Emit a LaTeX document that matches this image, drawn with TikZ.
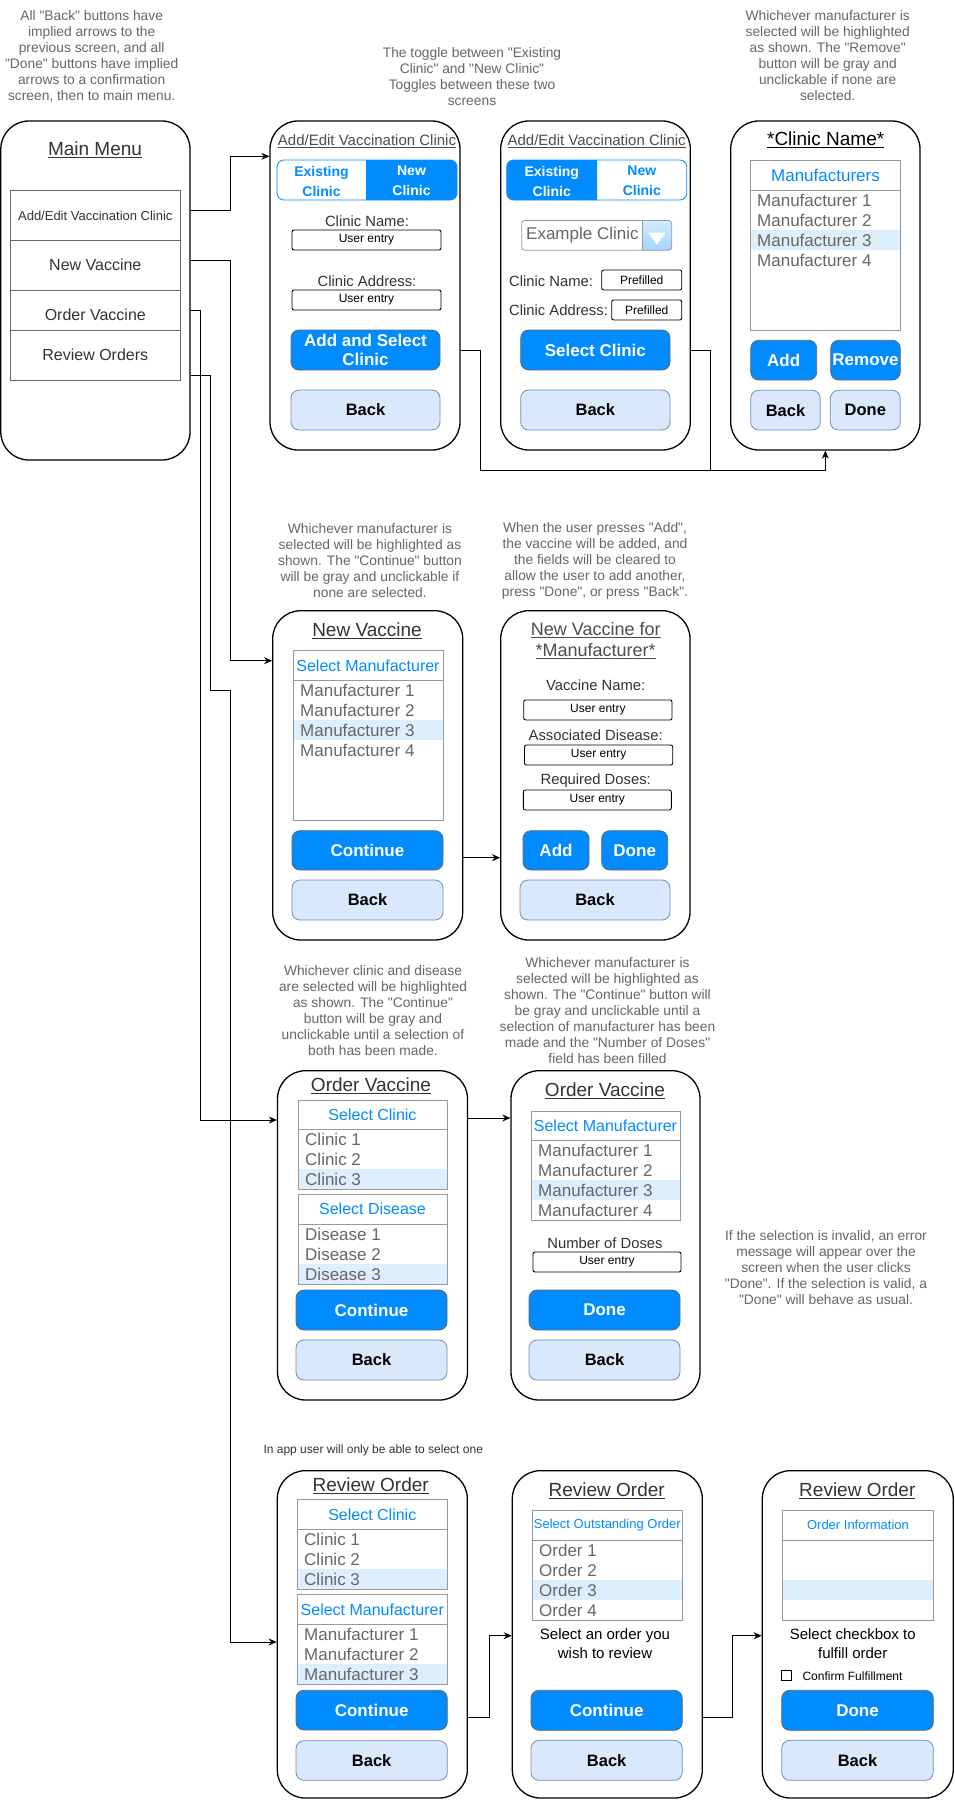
\documentclass[tikz,border=0pt]{standalone}
\usepackage{fontspec}
\setmainfont{Liberation Sans}
\newfontfamily\uisans{Liberation Sans}
\usetikzlibrary{arrows.meta}
\definecolor{notegray}{HTML}{666666}
\definecolor{btnblue}{HTML}{008CFF}
\definecolor{btnedge}{HTML}{666666}
\definecolor{backfill}{HTML}{DAE8FC}
\definecolor{backedge}{HTML}{6C8EBF}
\definecolor{listedge}{HTML}{999999}
\definecolor{hl}{HTML}{DDEEFF}
\definecolor{itemgray}{HTML}{666666}
\definecolor{dark}{HTML}{333333}
\definecolor{titlegray}{HTML}{4D4D4D}
\definecolor{ddtop}{HTML}{D2EBFF}
\definecolor{ddbot}{HTML}{A3D4FF}
\newcommand\fs[2]{\uisans\fontsize{#1}{#2}\selectfont}
% style name x1 y1 x2 y2 text
\newcommand\rbox[7]{\node[#1, inner sep=0pt, minimum width={(#5)-(#3)}, minimum height={(#6)-(#4)}] (#2) at ({((#3)+(#5))/2},{((#4)+(#6))/2}) {#7};}
% name x1 y1 x2 yhead y2 header size
\newcommand\listframe[8]{%
  \node[draw=listedge, line width=0.8pt, inner sep=0pt, minimum width={(#4)-(#2)}, minimum height={(#6)-(#3)}] (#1) at ({((#2)+(#4))/2},{((#3)+(#6))/2}) {};
  \draw[listedge, line width=0.8pt] (#2,#5) -- (#4,#5);
  \node[text=btnblue, font=\fs{#8}{#8}, inner sep=0pt] (#1h) at ({((#2)+(#4))/2},{((#3)+(#5))/2}) {#7};}
\newcommand\litem[4]{\node[anchor=west, text=itemgray, font=\fs{17}{20}, inner sep=0pt] (#1) at (#2,#3) {#4};}
\begin{document}
\begin{tikzpicture}[x=1pt,y=-1pt,
  note/.style={text=notegray, align=center, font=\fs{13.8}{16}, inner sep=0pt},
  frame/.style={draw=black, line width=1.3pt, rounded corners=28pt, fill=white},
  title/.style={font=\fs{19}{22}, text=dark, inner sep=0pt},
  lbl/.style={font=\fs{14.8}{17}, text=dark, inner sep=0pt},
  field/.style={draw=black, line width=0.9pt, rounded corners=2pt, font=\fs{12}{14}},
  bluebtn/.style={draw=btnedge, line width=0.8pt, fill=btnblue, rounded corners=8pt, text=white, font=\bfseries\fs{17}{19.5}, align=center},
  backbtn/.style={draw=backedge, line width=0.8pt, fill=backfill, rounded corners=8pt, text=black, font=\bfseries\fs{16.5}{19}},
  mitem/.style={draw=btnedge, line width=0.8pt},
  conn/.style={draw=black, line width=0.9pt, -{Stealth[length=8pt,width=7pt]}},
  plain/.style={draw=black, line width=0.9pt}]
\useasboundingbox (0,0) rectangle (954,1801);
\fill[white] (0,0) rectangle (954,1801);

% ---------- notes ----------
\node[note] (n1) at (91.7,56) {All "Back" buttons have\\implied arrows to the\\previous screen, and all\\"Done" buttons have implied\\arrows to a confirmation\\screen, then to main menu.};
\node[note] (n2) at (472,76.3) {The toggle between "Existing\\Clinic" and "New Clinic"\\Toggles between these two\\screens};
\node[note] (n3) at (827.7,56) {Whichever manufacturer is\\selected will be highlighted\\as shown. The "Remove"\\button will be gray and\\unclickable if none are\\selected.};
\node[note] (n4) at (370,561) {Whichever manufacturer is\\selected will be highlighted as\\shown. The "Continue" button\\will be gray and unclickable if\\none are selected.};
\node[note] (n5) at (595,561) {When the user presses "Add",\\the vaccine will be added, and\\the fields will be cleared to\\allow the user to add another,\\press "Done", or press "Back".};
\node[note] (n6) at (373,1011) {Whichever clinic and disease\\are selected will be highlighted\\as shown. The "Continue"\\button will be gray and\\unclickable until a selection of\\both has been made.};
\node[note] (n7) at (607.5,1011) {Whichever manufacturer is\\selected will be highlighted as\\shown. The "Continue" button will\\be gray and unclickable until a\\selection of manufacturer has been\\made and the "Number of Doses"\\field has been filled};
\node[note] (n8) at (826,1268) {If the selection is invalid, an error\\message will appear over the\\screen when the user clicks\\"Done". If the selection is valid, a\\"Done" will behave as usual.};
\node[anchor=west, text=dark, font=\fs{12}{14}, inner sep=0pt] (n9) at (263.3,1450.7) {In app user will only be able to select one};

% ---------- Main menu ----------
\rbox{frame}{mm}{0.8}{121}{190}{460}{}
\node[title] (mmt) at (95,150) {\underline{Main Menu}};
\rbox{mitem}{mi1}{10.7}{190.7}{180}{240.3}{}
\rbox{mitem}{mi2}{10.7}{240.3}{180}{290.3}{}
\rbox{mitem}{mi3}{10.7}{290.3}{180}{330.3}{}
\rbox{mitem}{mi4}{10.7}{330.3}{180}{380}{}
\node[font=\fs{13}{15}, text=dark, inner sep=0pt] (mi1t) at (95.3,216) {Add/Edit Vaccination Clinic};
\node[font=\fs{16}{18}, text=dark, inner sep=0pt] (mi2t) at (95.3,265) {New Vaccine};
\node[font=\fs{16}{18}, text=dark, inner sep=0pt] (mi3t) at (95.3,315) {Order Vaccine};
\node[font=\fs{16}{18}, text=dark, inner sep=0pt] (mi4t) at (95.3,355) {Review Orders};

% ---------- Screen 2: new clinic ----------
\rbox{frame}{s2}{270}{121}{460}{450}{}
\node[font=\fs{15}{17}, text=titlegray, inner sep=0pt] (s2t) at (367,141) {\underline{Add/Edit Vaccination Clinic}};
\begin{scope}
  \clip (366,150) rectangle (470,210);
  \fill[btnblue, rounded corners=7pt] (277,160) rectangle (457,200);
\end{scope}
\rbox{draw=btnblue, line width=0.8pt, rounded corners=7pt}{s2tog}{277}{160}{457}{200}{}
\node[text=btnblue, font=\bfseries\fs{14}{20}, align=center, inner sep=0pt] (s2ex) at (321.5,181) {Existing\\Clinic};
\node[text=white, font=\bfseries\fs{14}{20}, align=center, inner sep=0pt] (s2nw) at (411.5,181) {New\\Clinic};
\node[lbl] (s2l1) at (367,221) {Clinic Name:};
\rbox{field}{s2f1}{292}{230}{441}{250}{User entry}
\node[lbl] (s2l2) at (367,281) {Clinic Address:};
\rbox{field}{s2f2}{292}{290}{441}{310}{User entry}
\rbox{bluebtn}{s2b1}{291}{330}{440}{370}{Add and Select\\Clinic}
\rbox{backbtn}{s2b2}{291}{390}{440}{430}{Back}

% ---------- Screen 3: existing clinic ----------
\rbox{frame}{s3}{500.7}{121}{690.3}{450}{}
\node[font=\fs{15}{17}, text=titlegray, inner sep=0pt] (s3t) at (596.7,141) {\underline{Add/Edit Vaccination Clinic}};
\begin{scope}
  \clip (490,150) rectangle (597,210);
  \fill[btnblue, rounded corners=7pt] (506.7,160) rectangle (686.7,200);
\end{scope}
\rbox{draw=btnblue, line width=0.8pt, rounded corners=7pt}{s3tog}{506.7}{160}{686.7}{200}{}
\node[text=white, font=\bfseries\fs{14}{20}, align=center, inner sep=0pt] (s3ex) at (551.8,181) {Existing\\Clinic};
\node[text=btnblue, font=\bfseries\fs{14}{20}, align=center, inner sep=0pt] (s3nw) at (641.8,181) {New\\Clinic};
\begin{scope}
  \clip[rounded corners=3pt] (521.7,220.5) rectangle (671.7,250.3);
  \shade[top color=ddtop, bottom color=ddbot] (642.7,220) rectangle (672,251);
\end{scope}
\rbox{draw=listedge, line width=0.8pt, rounded corners=3pt}{s3dd}{521.7}{220.5}{671.7}{250.3}{}
\draw[listedge, line width=0.6pt] (642.7,220.5) -- (642.7,250.3);
\fill[white] (648,232.7) -- (665.7,232.7) -- (656.8,244.7) -- cycle;
\node[anchor=west, text=itemgray, font=\fs{17}{20}, inner sep=0pt] (s3ddt) at (526,235.3) {Example Clinic};
\node[lbl, anchor=west] (s3l1) at (509,281) {Clinic Name:};
\rbox{field}{s3f1}{601.7}{270}{681.7}{290}{Prefilled}
\node[lbl, anchor=west] (s3l2) at (509,310.7) {Clinic Address:};
\rbox{field}{s3f2}{611.7}{300}{681.7}{320}{Prefilled}
\rbox{bluebtn}{s3b1}{520.7}{330}{670}{370}{Select Clinic}
\rbox{backbtn}{s3b2}{520.7}{390}{670}{430}{Back}

% ---------- Screen 4: clinic name ----------
\rbox{frame}{s4}{730.7}{121}{920}{450}{}
\node[title, text=black] (s4t) at (825.7,140) {\underline{*Clinic Name*}};
\fill[hl] (750.7,230.3) rectangle (900.3,250.3);
\listframe{s4l}{750.7}{160.7}{900.3}{190.3}{330.3}{Manufacturers}{17}
\litem{s4i1}{757}{200.3}{Manufacturer 1}
\litem{s4i2}{757}{220.3}{Manufacturer 2}
\litem{s4i3}{757}{240.3}{Manufacturer 3}
\litem{s4i4}{757}{260.3}{Manufacturer 4}
\rbox{bluebtn}{s4b1}{750.7}{340.3}{816.7}{380}{Add}
\rbox{bluebtn}{s4b2}{830.7}{340.3}{900.3}{380}{Remove}
\rbox{backbtn}{s4b3}{750.7}{390.3}{820.3}{430}{Back}
\rbox{backbtn}{s4b4}{830.3}{390.3}{900.3}{430}{Done}

% ---------- New vaccine ----------
\rbox{frame}{nv}{272.7}{610.7}{462.7}{940}{}
\node[title] (nvt) at (367,630.7) {\underline{New Vaccine}};
\fill[hl] (293,720) rectangle (443,740);
\listframe{nvl}{293}{650.7}{443}{680}{820}{Select Manufacturer}{16}
\litem{nvi1}{300}{690}{Manufacturer 1}
\litem{nvi2}{300}{710}{Manufacturer 2}
\litem{nvi3}{300}{730}{Manufacturer 3}
\litem{nvi4}{300}{750}{Manufacturer 4}
\rbox{bluebtn}{nvb1}{292}{830.7}{443}{870}{Continue}
\rbox{backbtn}{nvb2}{292}{880}{443}{920}{Back}

% ---------- New vaccine for manufacturer ----------
\rbox{frame}{nvm}{500.7}{610.7}{690}{940}{}
\node[font=\fs{18}{20.7}, text=titlegray, align=center, inner sep=0pt] (nvmt) at (595.7,640.5) {\underline{New Vaccine for}\\\underline{*Manufacturer*}};
\node[lbl] (nvml1) at (595.7,685.7) {Vaccine Name:};
\rbox{field}{nvmf1}{523.7}{700}{672}{720}{User entry}
\node[lbl] (nvml2) at (595.7,735.7) {Associated Disease:};
\rbox{field}{nvmf2}{524.5}{745}{672.7}{765}{User entry}
\node[lbl] (nvml3) at (595.7,781) {Required Doses:};
\rbox{field}{nvmf3}{523.3}{790}{671.3}{810}{User entry}
\rbox{bluebtn}{nvmb1}{523}{830.7}{589}{870}{Add}
\rbox{bluebtn}{nvmb2}{601.7}{830.7}{667.7}{870}{Done}
\rbox{backbtn}{nvmb3}{520}{880}{670}{920}{Back}

% ---------- Order vaccine 1 ----------
\rbox{frame}{ov1}{277.5}{1070.7}{467.5}{1400}{}
\node[title] (ov1t) at (371,1086) {\underline{Order Vaccine}};
\fill[hl] (298,1169) rectangle (447,1189);
\listframe{ov1c}{298}{1100}{447}{1129}{1189}{Select Clinic}{16}
\litem{ov1c1}{305}{1139}{Clinic 1}
\litem{ov1c2}{305}{1159}{Clinic 2}
\litem{ov1c3}{305}{1179}{Clinic 3}
\fill[hl] (298,1264) rectangle (447,1284);
\listframe{ov1d}{298}{1194}{447}{1224}{1284}{Select Disease}{16}
\litem{ov1d1}{305}{1234}{Disease 1}
\litem{ov1d2}{305}{1254}{Disease 2}
\litem{ov1d3}{305}{1274}{Disease 3}
\rbox{bluebtn}{ov1b1}{296}{1290}{447}{1330}{Continue}
\rbox{backbtn}{ov1b2}{296}{1340}{447}{1380}{Back}

% ---------- Order vaccine 2 ----------
\rbox{frame}{ov2}{511}{1070.7}{700}{1400}{}
\node[title] (ov2t) at (605,1091) {\underline{Order Vaccine}};
\fill[hl] (531,1180) rectangle (680,1200);
\listframe{ov2l}{531}{1111}{680}{1140}{1220}{Select Manufacturer}{16}
\litem{ov2i1}{538}{1150}{Manufacturer 1}
\litem{ov2i2}{538}{1170}{Manufacturer 2}
\litem{ov2i3}{538}{1190}{Manufacturer 3}
\litem{ov2i4}{538}{1210}{Manufacturer 4}
\node[lbl] (ov2l1) at (605,1243) {Number of Doses};
\rbox{field}{ov2f}{533}{1252}{681}{1272}{User entry}
\rbox{bluebtn}{ov2b1}{529}{1290}{680}{1330}{Done}
\rbox{backbtn}{ov2b2}{529}{1340}{680}{1380}{Back}

% ---------- Review order 1 ----------
\rbox{frame}{ro1}{277.3}{1470.7}{467.3}{1798}{}
\node[title] (ro1t) at (370.7,1485.7) {\underline{Review Order}};
\fill[hl] (297.3,1569.3) rectangle (447.3,1589.3);
\listframe{ro1c}{297.3}{1499.7}{447.3}{1529.3}{1589.3}{Select Clinic}{16}
\litem{ro1c1}{304}{1539.3}{Clinic 1}
\litem{ro1c2}{304}{1559.3}{Clinic 2}
\litem{ro1c3}{304}{1579.3}{Clinic 3}
\fill[hl] (297.3,1664.3) rectangle (447.3,1684.3);
\listframe{ro1m}{297.3}{1594.3}{447.3}{1624.3}{1684.3}{Select Manufacturer}{16}
\litem{ro1m1}{304}{1634.3}{Manufacturer 1}
\litem{ro1m2}{304}{1654.3}{Manufacturer 2}
\litem{ro1m3}{304}{1674.3}{Manufacturer 3}
\rbox{bluebtn}{ro1b1}{296}{1690.3}{447.3}{1730}{Continue}
\rbox{backbtn}{ro1b2}{296}{1740.7}{447.3}{1780.3}{Back}

% ---------- Review order 2 ----------
\rbox{frame}{ro2}{512.3}{1470.7}{702.3}{1798}{}
\node[title] (ro2t) at (606.7,1490.7) {\underline{Review Order}};
\fill[hl] (532.3,1580.3) rectangle (682.3,1600.3);
\listframe{ro2l}{532.3}{1510.3}{682.3}{1540.3}{1620.3}{Select Outstanding Order}{13}
\litem{ro2i1}{539}{1550.3}{Order 1}
\litem{ro2i2}{539}{1570.3}{Order 2}
\litem{ro2i3}{539}{1590.3}{Order 3}
\litem{ro2i4}{539}{1610.3}{Order 4}
\node[font=\fs{15}{18.3}, text=black, align=center, inner sep=0pt] (ro2x) at (605,1643.5) {Select an order you\\wish to review};
\rbox{bluebtn}{ro2b1}{531}{1690.3}{682.3}{1730.3}{Continue}
\rbox{backbtn}{ro2b2}{531}{1740.3}{682.3}{1780.3}{Back}

% ---------- Review order 3 ----------
\rbox{frame}{ro3}{762.3}{1470.7}{953.2}{1798}{}
\node[title] (ro3t) at (857.3,1490.7) {\underline{Review Order}};
\fill[hl] (782.7,1580.3) rectangle (933.3,1600.3);
\listframe{ro3l}{782.7}{1510.3}{933.3}{1540.3}{1620.3}{Order Information}{13}
\node[font=\fs{15}{18.3}, text=black, align=center, inner sep=0pt] (ro3x) at (852.7,1643.5) {Select checkbox to\\fulfill order};
\rbox{draw=black, line width=0.8pt}{ro3cb}{781}{1670.7}{791.7}{1680.7}{}
\node[anchor=west, font=\fs{12}{14}, text=black, inner sep=0pt] (ro3cbt) at (802.3,1675.7) {Confirm Fulfillment};
\rbox{bluebtn}{ro3b1}{781.7}{1690.3}{933.3}{1730.3}{Done}
\rbox{backbtn}{ro3b2}{781.7}{1740.3}{933.3}{1780.3}{Back}

% ---------- connectors ----------
\draw[conn] (mm.east |- 0,210) -- (230,210) |- (s2.west |- 0,156.3);
\draw[conn] (mm.east |- 0,260) -- (230,260) |- (nv.west |- 0,660.7);
\draw[conn] (mm.east |- 0,310.3) -- (200.3,310.3) |- (ov1.west |- 0,1120);
\draw[conn] (mm.east |- 0,375.7) -- (210.3,375.7) -- (210.3,690.7) -- (230.3,690.7) |- (ro1.west |- 0,1642);
\draw[conn] (s2.east |- 0,350.3) -- (480.3,350.3) |- (s4.south |- 0,470.3) -- (s4.south);
\draw[plain] (s3.east |- 0,350.3) -- (710.3,350.3) -- (710.3,470.3);
\draw[conn] (nv.east |- 0,857.7) -- (nvm.west |- 0,857.7);
\draw[conn] (ov1.east |- 0,1118) -- (ov2.west |- 0,1118);
\draw[conn] (ro1.east |- 0,1717.7) -- (489.7,1717.7) |- (ro2.west |- 0,1635.7);
\draw[conn] (ro2.east |- 0,1717.3) -- (732.3,1717.3) |- (ro3.west |- 0,1635.7);
\end{tikzpicture}
\end{document}
